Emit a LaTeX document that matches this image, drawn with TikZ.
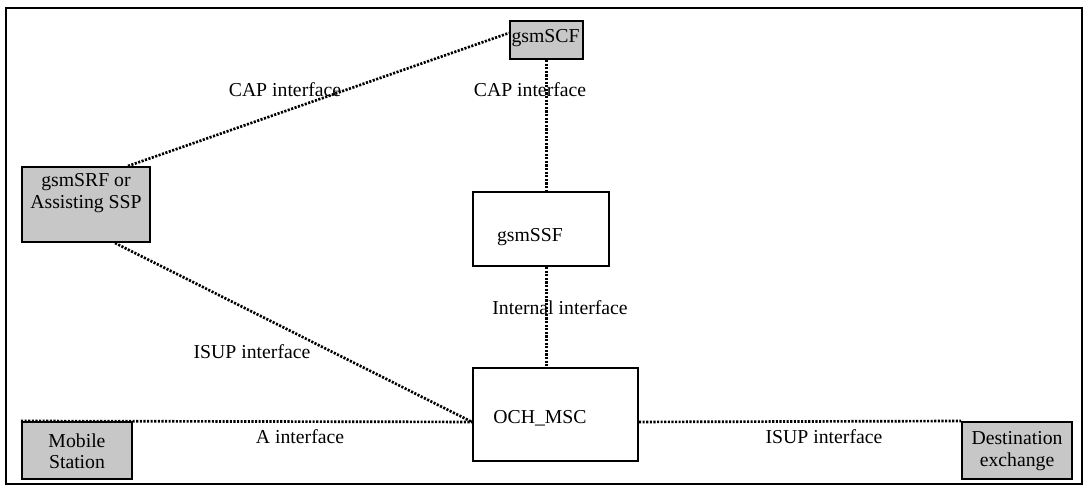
\documentclass[tikz,border=0pt]{standalone}
\usepackage{fontspec}
\setmainfont{Liberation Serif}
\begin{document}
\begin{tikzpicture}[x=0.75pt,y=-0.75pt,
  every node/.style={font=\fontsize{14.8}{16}\selectfont},
  frame/.style={draw=black,line width=1.5pt},
  box/.style={draw=black,line width=1.5pt,inner sep=0pt},
  greybox/.style={box,fill=black!22},
  txt/.style={inner sep=0pt,align=center},
  link/.style={line width=2pt,dash pattern=on 1.6pt off 1.1pt}
]
\useasboundingbox (0,0) rectangle (1087,488);
\draw[frame] (6,8) rectangle (1082,484);

% functional entities
\node[greybox,minimum width=96pt,minimum height=56.25pt] (srf) at (86,204.5) {};
\node[greybox,minimum width=54.75pt,minimum height=28.5pt] (scf) at (546.5,40) {};
\node[box,minimum width=102pt,minimum height=55.5pt] (ssf) at (541,229) {};
\node[box,minimum width=123.75pt,minimum height=69.75pt] (och) at (555.5,414.5) {};
\node[greybox,minimum width=82.5pt,minimum height=42.75pt] (ms) at (77,450.5) {};
\node[greybox,minimum width=82.5pt,minimum height=42.75pt] (de) at (1017,450.5) {};

% box texts
\node[txt] (srft) at (86,193) {gsmSRF or\\Assisting SSP};
\node[txt] (scft) at (545.5,38) {gsmSCF};
\node[txt] (ssft) at (530,237) {gsmSSF};
\node[txt] (ocht) at (540,418) {OCH\_MSC};
\node[txt] (mst) at (77,451) {Mobile\\Station};
\node[txt] (det) at (1017,451) {Destination\\exchange};

% interfaces
\draw[link] ([xshift=31.5pt]srf.north) -- ([yshift=5.25pt]scf.west);
\draw[link] (scf.south) -- (ssf.north -| scf.south);
\draw[link] (ssf.south -| scf.south) -- (och.north -| scf.south);
\draw[link] ([xshift=21.75pt]srf.south) -- ([yshift=-5.6pt]och.west);
\draw[link] (ms.north west) -- ([yshift=-5.6pt]och.west);
\draw[link] ([yshift=-5.6pt]och.east) -- (de.north west);

% interface labels
\node[txt] (capl) at (285,90) {CAP interface};
\node[txt] (capm) at (530,90) {CAP interface};
\node[txt] (intl) at (560,308) {Internal interface};
\node[txt] (isupl) at (252,352) {ISUP interface};
\node[txt] (al) at (300,437) {A interface};
\node[txt] (isupr) at (824,437) {ISUP interface};
\end{tikzpicture}
\end{document}
